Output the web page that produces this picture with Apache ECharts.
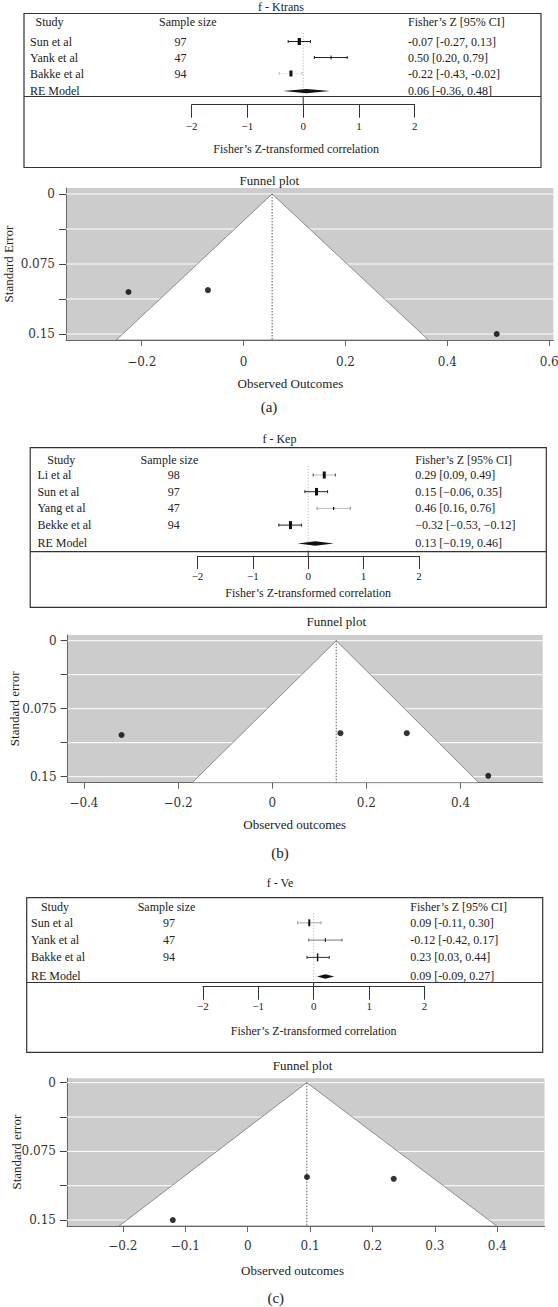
<!DOCTYPE html>
<html>
<head>
<meta charset="utf-8">
<script src="https://cdn.jsdelivr.net/npm/echarts@6/dist/echarts.min.js"></script>
<style>
  html, body { margin: 0; padding: 0; background: #fff; }
  #chart { width: 558px; height: 1307px; }
</style>
</head>
<body>
<div id="chart"></div>
<script>
// ---- data ----
// (a) f - Ktrans
var ktransStudies = ['Sun et al', 'Yank et al', 'Bakke et al'];
var ktransN = [97, 47, 94];
var ktransEst = [-0.07, 0.50, -0.22];
var ktransLo = [-0.27, 0.20, -0.43];
var ktransHi = [0.13, 0.79, -0.02];
var ktransCI = ['-0.07 [-0.27, 0.13]', '0.50 [0.20, 0.79]', '-0.22 [-0.43, -0.02]'];
var ktransRE = [0.06, -0.36, 0.48];
var ktransRECI = '0.06 [-0.36, 0.48]';
var ktransFunnelX = [-0.226, -0.07, 0.497];
var ktransFunnelSE = [0.105, 0.103, 0.150];
var ktransFunnel = [[0.056, 0], [-0.25, 0.1564], [0.363, 0.1564]];
var ktransXTicks = [-0.2, 0, 0.2, 0.4, 0.6];

// (b) f - Kep
var kepStudies = ['Li et al', 'Sun et al', 'Yang et al', 'Bekke et al'];
var kepN = [98, 97, 47, 94];
var kepEst = [0.29, 0.15, 0.46, -0.32];
var kepLo = [0.09, -0.06, 0.16, -0.53];
var kepHi = [0.49, 0.35, 0.76, -0.12];
var kepCI = ['0.29 [0.09, 0.49]', '0.15 [\u22120.06, 0.35]', '0.46 [0.16, 0.76]', '\u22120.32 [\u22120.53, \u22120.12]'];
var kepRE = [0.13, -0.19, 0.46];
var kepRECI = '0.13 [\u22120.19, 0.46]';
var kepFunnelX = [-0.32, 0.145, 0.286, 0.459];
var kepFunnelSE = [0.104, 0.102, 0.102, 0.149];
var kepFunnel = [[0.136, 0], [-0.17, 0.1566], [0.439, 0.1566]];
var kepXTicks = [-0.4, -0.2, 0, 0.2, 0.4];

// (c) f - Ve  (marks as drawn in the picture)
var veStudies = ['Sun et al', 'Yank et al', 'Bakke et al'];
var veN = [97, 47, 94];
var veEst = [-0.08, 0.21, 0.07];
var veLo = [-0.29, -0.09, -0.12];
var veHi = [0.13, 0.51, 0.28];
var veCI = ['0.09 [-0.11, 0.30]', '-0.12 [-0.42, 0.17]', '0.23 [0.03, 0.44]'];
var veRE = [0.21, 0.06, 0.37];
var veRECI = '0.09 [-0.09, 0.27]';
var veFunnelX = [-0.12, 0.095, 0.234];
var veFunnelSE = [0.150, 0.103, 0.105];
var veFunnel = [[0.0947, 0], [-0.206, 0.1565], [0.399, 0.1565]];
var veXTicks = [-0.2, -0.1, 0, 0.1, 0.2, 0.3, 0.4];

var forestTicks = [-2, -1, 0, 1, 2];
var seTicks = [0, 0.0375, 0.075, 0.1125, 0.15];
var seLabels = [0, 0.075, 0.15];

var SERIF = '"Liberation Serif", "Times New Roman", serif';
var NUMF = '"DejaVu Serif", serif';
var GRIDLINE = '#ffffff';

var option = {
  animation: false,
  backgroundColor: '#fff',
  textStyle: { fontFamily: SERIF },
  grid: [], xAxis: [], yAxis: [], series: [], graphic: []
};

function txt(s, x, y, align, size, font) {
  return {
    type: 'text', x: x, y: y, silent: true,
    style: { text: s, fill: '#222', font: size + 'px ' + (font || SERIF), align: align, verticalAlign: 'middle' }
  };
}

function minusFmt(v) {
  var s = parseFloat(Math.abs(v).toFixed(2)).toString();
  return v < -1e-9 ? '\u2212' + s : s;
}

function addForest(title, studies, ns, est, lo, hi, ci, re, reci, L) {
  var gi = option.grid.length;
  var n = studies.length;
  var reRow = n + 1.1;
  var yMax = (L.axisY - L.row0) / L.step;
  option.grid.push({ left: L.x0, top: L.row0, width: L.x1 - L.x0, height: L.axisY - L.row0,
    containLabel: false, outerBoundsMode: 'none' });
  option.xAxis.push({
    gridIndex: gi, type: 'value', min: -2, max: 2, interval: 1,
    axisLine: { show: true, onZero: false, lineStyle: { color: '#333', width: 1 } },
    axisTick: { show: true, length: 13, lineStyle: { color: '#333' } },
    axisLabel: { margin: L.labelMargin, fontSize: 11, color: '#222', fontFamily: SERIF, formatter: minusFmt },
    splitLine: { show: false },
    name: "Fisher\u2019s Z-transformed correlation", nameLocation: 'middle', nameGap: L.nameGap,
    nameMoveOverlap: false,
    nameTextStyle: { fontSize: 12, color: '#222', fontFamily: SERIF, padding: L.namePad }
  });
  option.yAxis.push({ gridIndex: gi, type: 'value', inverse: true, min: 0, max: yMax, show: false });

  var rows = [];
  for (var i = 0; i < n; i++) rows.push([est[i], i + 1, lo[i], hi[i]]);

  option.series.push({
    type: 'custom', xAxisIndex: gi, yAxisIndex: gi, clip: false, z: 3, data: rows,
    renderItem: function (p, api) {
      var i = p.dataIndex;
      var y = api.coord([0, api.value(1)])[1];
      var xe = api.coord([api.value(0), 0])[0];
      var xl = api.coord([api.value(2), 0])[0];
      var xh = api.coord([api.value(3), 0])[0];
      var bw = L.boxW[i], bh = L.boxH[i];
      return { type: 'group', children: [
        { type: 'line', shape: { x1: xl, y1: y, x2: xh, y2: y }, style: { stroke: L.ciColor[i], lineWidth: 1 } },
        { type: 'line', shape: { x1: xl, y1: y - 1.5, x2: xl, y2: y + 1.5 }, style: { stroke: L.capColor[i], lineWidth: 1 } },
        { type: 'line', shape: { x1: xh, y1: y - 1.5, x2: xh, y2: y + 1.5 }, style: { stroke: L.capColor[i], lineWidth: 1 } },
        { type: 'rect', shape: { x: xe - bw / 2, y: y - bh / 2, width: bw, height: bh }, style: { fill: '#111' } },
        txt(studies[i], L.colStudy, y, 'left', 12),
        txt(String(ns[i]), L.colN, y, 'center', 12),
        txt(ci[i], L.colCI, y, 'left', 12)
      ] };
    }
  });

  option.series.push({
    type: 'custom', xAxisIndex: gi, yAxisIndex: gi, clip: false, z: 3,
    data: [[re[0], reRow, re[1], re[2]]],
    renderItem: function (p, api) {
      var y = api.coord([0, api.value(1)])[1];
      var xe = api.coord([api.value(0), 0])[0];
      var xl = api.coord([api.value(2), 0])[0];
      var xh = api.coord([api.value(3), 0])[0];
      return { type: 'group', children: [
        { type: 'polygon', shape: { points: [[xl, y], [xe, y - 2.2], [xh, y], [xe, y + 2.2]] }, style: { fill: '#111' } },
        txt('RE Model', L.colStudy, y, 'left', 12),
        txt(reci, L.colCI, y, 'left', 12)
      ] };
    }
  });

  // reference line at zero
  option.series.push({
    type: 'custom', xAxisIndex: gi, yAxisIndex: gi, clip: false, z: 2,
    data: [[0, 0.45]],
    renderItem: function (p, api) {
      var top = api.coord([api.value(0), api.value(1)]);
      var bot = p.coordSys.y + p.coordSys.height;
      return { type: 'group', children: [
        { type: 'line', shape: { x1: top[0], y1: top[1], x2: top[0], y2: L.divider }, style: { stroke: '#aaa', lineWidth: 1, lineDash: [1, 2] } },
        { type: 'line', shape: { x1: top[0], y1: L.divider, x2: top[0], y2: bot }, style: { stroke: '#222', lineWidth: 1 } }
      ] };
    }
  });

  var b = L.box;
  option.graphic.push(
    { type: 'rect', silent: true, shape: { x: b[0], y: b[1], width: b[2] - b[0], height: b[3] - b[1] }, style: { fill: 'none', stroke: '#333', lineWidth: 1.2 } },
    { type: 'line', silent: true, shape: { x1: b[0], y1: L.divider, x2: b[2], y2: L.divider }, style: { stroke: '#333', lineWidth: 1.2 } },
    txt(title, L.title[0], L.title[1], 'center', 12),
    txt('Study', L.head.study, L.head.y, 'left', 12),
    txt('Sample size', L.head.n, L.head.y, 'left', 12),
    txt("Fisher\u2019s Z [95% CI]", L.head.ci, L.head.y, 'left', 12)
  );
}

function addFunnel(px, pse, funnel, xTicks, xName, yName, caption, L) {
  var gi = option.grid.length;
  var w = L.right - L.left;
  var shift = L.nameX - (L.left + w / 2);
  option.grid.push({ left: L.left, top: L.top, width: w, height: L.bottom - L.top,
    show: true, backgroundColor: '#cccccc', borderWidth: 0, containLabel: false, outerBoundsMode: 'none' });
  option.xAxis.push({
    gridIndex: gi, type: 'value', min: L.xMin, max: L.xMax,
    axisLine: { show: true, onZero: false, lineStyle: { color: '#666', width: 1 } },
    axisTick: { show: true, length: 6, customValues: xTicks, lineStyle: { color: '#666' } },
    axisLabel: { customValues: xTicks, margin: L.labelMargin, fontSize: 12, color: '#333', fontFamily: NUMF, formatter: minusFmt },
    splitLine: { show: false },
    name: xName, nameLocation: 'middle', nameGap: L.nameGap, nameMoveOverlap: false,
    nameTextStyle: { fontSize: 13, color: '#222', fontFamily: SERIF,
      padding: shift < 0 ? [0, -2 * shift, 0, 0] : [0, 0, 0, 2 * shift] }
  });
  option.yAxis.push({
    gridIndex: gi, type: 'value', inverse: true, min: L.yMin, max: L.yMax,
    axisLine: { show: true, onZero: false, lineStyle: { color: '#666', width: 1 } },
    axisTick: { show: true, length: 7, customValues: seTicks, lineStyle: { color: '#444' } },
    axisLabel: { customValues: seLabels, margin: 11, fontSize: 12, color: '#333', fontFamily: NUMF,
      formatter: function (v) { return v === 0 ? '0' : String(parseFloat(v.toFixed(4))); } },
    splitLine: { show: false },
    name: yName, nameLocation: 'middle', nameGap: L.yNameGap, nameMoveOverlap: false,
    nameTextStyle: { fontSize: 13, color: '#222', fontFamily: SERIF }
  });

  // white gridlines at the standard-error ticks
  option.series.push({
    type: 'custom', xAxisIndex: gi, yAxisIndex: gi, clip: false, z: 1, silent: true,
    data: seTicks.map(function (v) { return [L.xMin, v]; }),
    renderItem: function (p, api) {
      var y = api.coord([api.value(0), api.value(1)])[1];
      return { type: 'line', shape: { x1: p.coordSys.x, y1: y, x2: p.coordSys.x + p.coordSys.width, y2: y },
        style: { stroke: GRIDLINE, lineWidth: 1 } };
    }
  });

  option.series.push({
    type: 'custom', xAxisIndex: gi, yAxisIndex: gi, clip: false, z: 2,
    data: [[funnel[0][0], funnel[0][1], funnel[1][0], funnel[1][1], funnel[2][0], funnel[2][1]]],
    renderItem: function (p, api) {
      var a = api.coord([api.value(0), api.value(1)]);
      var l = api.coord([api.value(2), api.value(3)]);
      var r = api.coord([api.value(4), api.value(5)]);
      var bot = api.coord([api.value(0), api.value(3)]);
      return { type: 'group', children: [
        { type: 'polygon', shape: { points: [a, l, r] }, style: { fill: '#ffffff', stroke: '#666', lineWidth: 0.7 } },
        { type: 'line', shape: { x1: a[0], y1: a[1], x2: bot[0], y2: bot[1] }, style: { stroke: '#333', lineWidth: 0.8, lineDash: [1.5, 1.5] } }
      ] };
    }
  });

  var pts = [];
  for (var i = 0; i < px.length; i++) pts.push([px[i], pse[i]]);
  option.series.push({
    type: 'scatter', xAxisIndex: gi, yAxisIndex: gi, z: 4, symbol: 'circle', symbolSize: 6,
    itemStyle: { color: '#000' }, data: pts
  });

  option.graphic.push(
    txt('Funnel plot', L.title[0], L.title[1], 'center', 13),
    txt(caption, L.caption[0], L.caption[1], 'center', 15)
  );
}

addForest('f - Ktrans', ktransStudies, ktransN, ktransEst, ktransLo, ktransHi, ktransCI, ktransRE, ktransRECI, {
  title: [281, 6.5], box: [24, 13.5, 541, 167.5], divider: 96.5,
  head: { y: 22, study: 35.6, n: 159, ci: 408 },
  colStudy: 30, colN: 180.5, colCI: 408,
  x0: 191.7, x1: 414.7, row0: 25.5, step: 16, axisY: 104.7,
  labelMargin: 16, nameGap: 38, namePad: [0, 14, 0, 0],
  ciColor: ['#222', '#222', '#eeeeee'], capColor: ['#222', '#222', '#bbb'],
  boxW: [3.3, 1, 3], boxH: [7, 4, 6]
});
addFunnel(ktransFunnelX, ktransFunnelSE, ktransFunnel, ktransXTicks, 'Observed Outcomes', 'Standard Error', '(a)', {
  left: 66, right: 553.4, top: 188, bottom: 340,
  xMin: -0.3487, xMax: 0.6083, yMin: -0.0064, yMax: 0.1564,
  title: [269.4, 180], nameX: 290.4, labelMargin: 16, nameGap: 36.5, yNameGap: 51, caption: [269, 407]
});

addForest('f - Kep', kepStudies, kepN, kepEst, kepLo, kepHi, kepCI, kepRE, kepRECI, {
  title: [279.4, 439.3], box: [30.2, 447.7, 546.3, 607.3], divider: 551.7,
  head: { y: 460, study: 47.3, n: 140.6, ci: 415.3 },
  colStudy: 37.4, colN: 173.7, colCI: 415.3,
  x0: 197.5, x1: 418.9, row0: 458.3, step: 16.7, axisY: 556,
  labelMargin: 14, nameGap: 31, namePad: [0, 0, 0, 0],
  ciColor: ['#bbb', '#222', '#bbb', '#222'], capColor: ['#444', '#222', '#888', '#222'],
  boxW: [3, 3, 1.2, 3], boxH: [7, 7.5, 3, 8]
});
addFunnel(kepFunnelX, kepFunnelSE, kepFunnel, kepXTicks, 'Observed outcomes', 'Standard error', '(b)', {
  left: 67.6, right: 542.7, top: 635, bottom: 782.7,
  xMin: -0.4347, xMax: 0.5747, yMin: -0.0063, yMax: 0.1566,
  title: [336.3, 621.7], nameX: 294.7, labelMargin: 14, nameGap: 35, yNameGap: 47, caption: [280, 853]
});

addForest('f - Ve', veStudies, veN, veEst, veLo, veHi, veCI, veRE, veRECI, {
  title: [280, 883.3], box: [26.7, 897.7, 542.7, 1052.3], divider: 982.5,
  head: { y: 907.3, study: 40.9, n: 137.7, ci: 410.3 },
  colStudy: 31, colN: 169, colCI: 410.3,
  x0: 202.8, x1: 424.6, row0: 905.5, step: 17.3, axisY: 986.7,
  labelMargin: 14, nameGap: 38, namePad: [0, 0, 0, 0],
  ciColor: ['#aaa', '#777', '#333'], capColor: ['#999', '#666', '#333'],
  boxW: [2, 1, 1.5], boxH: [7, 4, 8]
});
addFunnel(veFunnelX, veFunnelSE, veFunnel, veXTicks, 'Observed outcomes', 'Standard error', '(c)', {
  left: 66.9, right: 544.5, top: 1078.3, bottom: 1226,
  xMin: -0.2897, xMax: 0.4756, yMin: -0.0048, yMax: 0.1565,
  title: [302.5, 1065], nameX: 292.5, labelMargin: 13.5, nameGap: 37.5, yNameGap: 44, caption: [275.8, 1298.3]
});

var chart = echarts.init(document.getElementById('chart'), null, { renderer: 'svg' });
chart.setOption(option);
</script>
</body>
</html>
